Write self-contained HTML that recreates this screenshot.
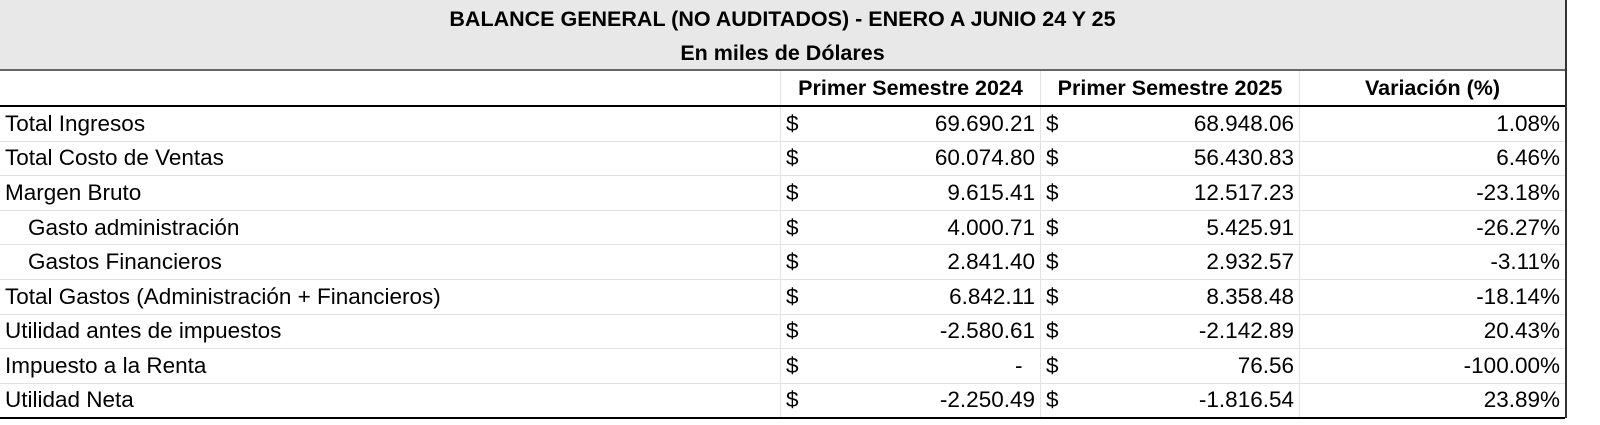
<!DOCTYPE html>
<html><head><meta charset="utf-8"><style>
html,body{margin:0;width:1600px;height:425px;background:#fff;font-family:"Liberation Sans",sans-serif;color:#000;overflow:hidden;position:relative}
#wrap{position:absolute;left:0;top:0;width:1565px;height:418px;border-right:2px solid #333}
.title{position:absolute;left:0;top:0;width:1565px;height:69px;background:#e8e8e8;border-bottom:2px solid #666;text-align:center;font-weight:bold;font-size:21.5px}
.title div{height:34px;line-height:38px}
.row{position:absolute;left:0;width:1565px;display:flex;font-size:22.5px;border-bottom:1px solid #e2e2e2;box-sizing:border-box}
.row>div{box-sizing:border-box;border-right:1px solid #e2e2e2;padding:0 5px;white-space:nowrap;display:flex;align-items:center;height:100%}
.c0{width:781px}.c1{width:260px}.c2{width:259px}.c3{width:265px;border-right:none!important;justify-content:flex-end}
.c1,.c2{justify-content:space-between}
.h{font-weight:bold;font-size:21.5px;border-bottom:2px solid #000}
.h>div{justify-content:center!important}
.ind{padding-left:28px!important}
.last{border-bottom:2px solid #000}
</style></head><body>
<div id="wrap">
<div class="title"><div>BALANCE GENERAL (NO AUDITADOS) - ENERO A JUNIO 24 Y 25</div><div>En miles de Dólares</div></div>
<div class="row h" style="top:71px;height:36px"><div class="c0"></div><div class="c1">Primer Semestre 2024</div><div class="c2">Primer Semestre 2025</div><div class="c3">Variación (%)</div></div>
<div class="row" style="top:107px;height:34.6px"><div class="c0">Total Ingresos</div><div class="c1"><span>$</span><span>69.690.21</span></div><div class="c2"><span>$</span><span>68.948.06</span></div><div class="c3">1.08%</div></div>
<div class="row" style="top:141.6px;height:34.6px"><div class="c0">Total Costo de Ventas</div><div class="c1"><span>$</span><span>60.074.80</span></div><div class="c2"><span>$</span><span>56.430.83</span></div><div class="c3">6.46%</div></div>
<div class="row" style="top:176.2px;height:34.6px"><div class="c0">Margen Bruto</div><div class="c1"><span>$</span><span>9.615.41</span></div><div class="c2"><span>$</span><span>12.517.23</span></div><div class="c3">-23.18%</div></div>
<div class="row" style="top:210.8px;height:34.6px"><div class="c0 ind">Gasto administración</div><div class="c1"><span>$</span><span>4.000.71</span></div><div class="c2"><span>$</span><span>5.425.91</span></div><div class="c3">-26.27%</div></div>
<div class="row" style="top:245.4px;height:34.6px"><div class="c0 ind">Gastos Financieros</div><div class="c1"><span>$</span><span>2.841.40</span></div><div class="c2"><span>$</span><span>2.932.57</span></div><div class="c3">-3.11%</div></div>
<div class="row" style="top:280px;height:34.6px"><div class="c0">Total Gastos (Administración + Financieros)</div><div class="c1"><span>$</span><span>6.842.11</span></div><div class="c2"><span>$</span><span>8.358.48</span></div><div class="c3">-18.14%</div></div>
<div class="row" style="top:314.6px;height:34.6px"><div class="c0">Utilidad antes de impuestos</div><div class="c1"><span>$</span><span>-2.580.61</span></div><div class="c2"><span>$</span><span>-2.142.89</span></div><div class="c3">20.43%</div></div>
<div class="row" style="top:349.2px;height:34.6px"><div class="c0">Impuesto a la Renta</div><div class="c1"><span>$</span><span>-&nbsp;&nbsp;</span></div><div class="c2"><span>$</span><span>76.56</span></div><div class="c3">-100.00%</div></div>
<div class="row last" style="top:383.8px;height:35px"><div class="c0">Utilidad Neta</div><div class="c1"><span>$</span><span>-2.250.49</span></div><div class="c2"><span>$</span><span>-1.816.54</span></div><div class="c3">23.89%</div></div>
</div>
</body></html>
